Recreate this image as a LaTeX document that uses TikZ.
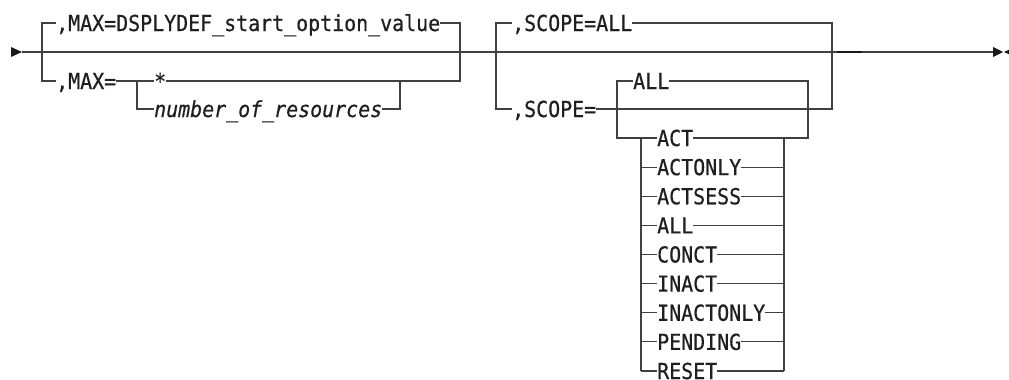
\documentclass[tikz,border=0pt]{standalone}
\usepackage{fontspec}
\newfontfamily\rrfont[FakeStretch=0.906,FakeBold=0.6]{DejaVu Sans Mono}
\begin{document}
\begin{tikzpicture}[x=1pt,y=-1pt,
  rail/.style={line width=1.2pt, draw=black!75, line join=miter},
  lbl/.style={anchor=west, inner sep=0pt, text height=16pt, text depth=0pt,
    font=\rrfont\fontsize{22}{22}\selectfont, text=black!88},
  tip/.style={fill=black!90, draw=none}]
\useasboundingbox (0,0) rectangle (1009,380);

% ---- coordinates
\coordinate (start) at (22,52);
\coordinate (end) at (993,52);
\coordinate (g1tl) at (42,23);
\coordinate (g1bl) at (42,81);
\coordinate (g1tr) at (460,23);
\coordinate (g1br) at (460,81);
\coordinate (i1t) at (137,81);
\coordinate (i1b) at (137,109);
\coordinate (i1rb) at (400,109);
\coordinate (i1rt) at (400,81);
\coordinate (g2tl) at (496,23);
\coordinate (g2bl) at (496,109);
\coordinate (g2tr) at (832,23);
\coordinate (g2br) at (832,109);
\coordinate (b2tl) at (617,81);
\coordinate (b2bl) at (617,138);
\coordinate (b2tr) at (808,81);
\coordinate (b2br) at (808,138);
\coordinate (lt) at (641,138);
\coordinate (lb) at (641,371);
\coordinate (rt) at (784,138);
\coordinate (rb) at (784,371);
\coordinate (d1) at (837,52);
\coordinate (d2) at (862,52);

% ---- labels
\node[lbl] (m1) at (56,23) {,MAX=DSPLYDEF\_start\_option\_value};
\node[lbl] (m2) at (56,81) {,MAX=};
\node[lbl] (star) at (154,81) {*};
\node[lbl] (num) at (154,109) {\itshape number\_of\_resources};
\node[lbl] (sa) at (512,23) {,SCOPE=ALL};
\node[lbl] (sb) at (512,109) {,SCOPE=};
\node[lbl] (all1) at (633,81) {ALL};
\foreach \t [count=\i from 0] in {ACT,ACTONLY,ACTSESS,ALL,CONCT,INACT,INACTONLY,PENDING,RESET}{
  \node[lbl] (r\i) at (657,{138+\i*29.125}) {\t};
}

% ---- main line and end marks
\draw[rail] (start) -- (end);
\fill[tip] (11,47) -- (start) -- (11,57) -- cycle;
\fill[tip] (993,47) -- (1003,52) -- (993,57) -- cycle;
\fill[tip] (1004,52) -- (1015,47) -- (1015,57) -- cycle;
\draw[line width=2.2pt, draw=black!90] (d1) -- (d2);

% ---- group 1
\draw[rail] (m1.west) -- (g1tl) -- (g1bl) -- (m2.west);
\draw[rail] (m1.east) -- (g1tr) -- (g1br) -- (star.east);
\draw[rail] (m2.east) -- (star.west);
\draw[rail] (i1t) -- (i1b) -- (num.west);
\draw[rail] (num.east) -- (i1rb) -- (i1rt);

% ---- group 2
\draw[rail] (sa.west) -- (g2tl) -- (g2bl) -- (sb.west);
\draw[rail] (sa.east) -- (g2tr) -- (g2br) -- (sb.east);
\draw[rail] (all1.west) -- (b2tl) -- (b2bl) -- (r0.west);
\draw[rail] (all1.east) -- (b2tr) -- (b2br) -- (r0.east);
\draw[rail] (lt) -- (lb);
\draw[rail] (rt) -- (rb);
\foreach \i in {1,...,8}{
  \draw[rail] (lt |- r\i.west) -- (r\i.west);
  \draw[rail] (r\i.east) -- (rt |- r\i.east);
}
\end{tikzpicture}
\end{document}
